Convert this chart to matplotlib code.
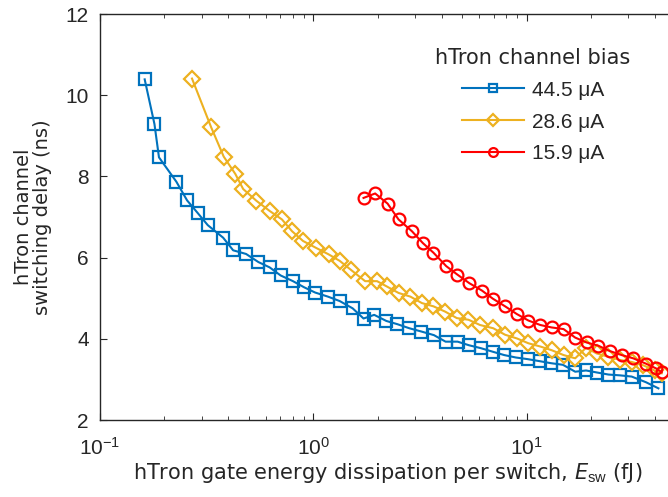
import matplotlib
matplotlib.use('Agg')
import matplotlib.pyplot as plt
import numpy as np

# data
labels = ['44.5 μA', '28.6 μA', '15.9 μA']

e_445 = [0.162, 0.180, 0.189, 0.228, 0.256, 0.288, 0.320, 0.378, 0.421, 0.484,
         0.553, 0.624, 0.703, 0.803, 0.905, 1.02, 1.17, 1.33, 1.53, 1.72,
         1.93, 2.20, 2.48, 2.82, 3.21, 3.68, 4.17, 4.75, 5.38, 6.10,
         6.96, 7.85, 8.90, 10.1, 11.5, 13.0, 14.8, 16.9, 19.0, 21.4,
         24.2, 27.4, 31.1, 36.3, 41.5]
t_445 = [10.39, 9.29, 8.47, 7.87, 7.41, 7.09, 6.80, 6.49, 6.18, 6.09,
         5.89, 5.76, 5.56, 5.42, 5.27, 5.14, 5.04, 4.93, 4.75, 4.50,
         4.59, 4.44, 4.36, 4.26, 4.18, 4.09, 3.93, 3.93, 3.84, 3.77,
         3.68, 3.60, 3.54, 3.50, 3.45, 3.40, 3.36, 3.19, 3.22, 3.17,
         3.12, 3.10, 3.07, 2.93, 2.78]

e_286 = [0.270, 0.332, 0.380, 0.431, 0.469, 0.541, 0.624, 0.713, 0.795, 0.895,
         1.03, 1.18, 1.33, 1.50, 1.75, 1.99, 2.21, 2.51, 2.85, 3.23,
         3.66, 4.15, 4.71, 5.34, 6.05, 6.98, 7.93, 9.0, 10.2, 11.6,
         13.1, 14.9, 16.9, 19.0, 21.3, 24.1, 27.4, 31.1, 35.2, 39.8, 43.0]
t_286 = [10.41, 9.21, 8.49, 8.06, 7.69, 7.40, 7.15, 6.94, 6.65, 6.41,
         6.24, 6.08, 5.92, 5.70, 5.42, 5.42, 5.29, 5.13, 5.04, 4.88,
         4.80, 4.67, 4.51, 4.47, 4.34, 4.26, 4.10, 4.01, 3.89, 3.81,
         3.72, 3.60, 3.52, 3.78, 3.64, 3.56, 3.48, 3.43, 3.35, 3.22, 3.15]

e_159 = [1.72, 1.95, 2.23, 2.51, 2.90, 3.26, 3.66, 4.20, 4.74, 5.39,
         6.17, 6.94, 7.93, 9.0, 10.2, 11.6, 13.1, 14.9, 16.9, 19.1,
         21.7, 24.5, 27.9, 31.6, 36.2, 40.5, 43.0]
t_159 = [7.47, 7.58, 7.33, 6.94, 6.65, 6.36, 6.12, 5.79, 5.58, 5.37,
         5.19, 4.99, 4.80, 4.61, 4.45, 4.34, 4.28, 4.24, 4.03, 3.91,
         3.83, 3.70, 3.60, 3.52, 3.39, 3.27, 3.18]

plt.rcParams['mathtext.fontset'] = 'custom'
plt.rcParams['mathtext.rm'] = 'Liberation Sans'
plt.rcParams['mathtext.it'] = 'DejaVu Sans:italic'
plt.rcParams['mathtext.sf'] = 'Liberation Sans'

dark = '#262626'
fig = plt.figure(figsize=(6.68, 4.97), dpi=100)
# axes run past the right edge, as in the cropped reference
ax = fig.add_axes([0.1497, 0.1549, 0.8618, 0.8169])

ax.plot(e_445, t_445, '-s', color='#0072BD', lw=1.5, ms=8, mew=1.6,
        mfc='none', label=labels[0])
ax.plot(e_286, t_286, '-D', color='#EDB120', lw=1.5, ms=8, mew=1.6,
        mfc='none', label=labels[1])
ax.plot(e_159, t_159, '-o', color='#FF0000', lw=1.5, ms=8.5, mew=1.6,
        mfc='none', label=labels[2])

ax.set_xscale('log')
ax.set_xlim(0.1, 50)
ax.set_ylim(2, 12)
ax.set_yticks([2, 4, 6, 8, 10, 12])

for s in ax.spines.values():
    s.set_color(dark)
    s.set_linewidth(1.0)
ax.tick_params(which='both', direction='in', top=True, right=True,
               colors=dark, labelcolor=dark)
ax.tick_params(which='major', length=5, labelsize=15, pad=8)
ax.tick_params(axis='x', which='major', pad=12)
ax.tick_params(which='minor', length=3)
for t in ax.get_xticklabels() + ax.get_yticklabels():
    t.set_fontfamily('Liberation Sans')

ax.set_xlabel('hTron gate energy dissipation per switch, $E_{\\rm sw}$ (fJ)',
              fontsize=15, family='DejaVu Sans', color=dark, labelpad=2)
ax.set_ylabel('hTron channel\nswitching delay (ns)', fontsize=14,
              family='DejaVu Sans', color=dark, linespacing=1.0, labelpad=10)

leg = ax.legend(loc='upper center', bbox_to_anchor=(533 / 668, 0.925),
                bbox_transform=fig.transFigure, frameon=False,
                prop={'family': 'Liberation Sans', 'size': 15},
                handlelength=3.0, handletextpad=0.35, labelspacing=0.62,
                borderpad=0, markerscale=0.75,
                title='hTron channel bias')
leg.get_title().set_fontfamily('DejaVu Sans')
leg.get_title().set_fontsize(15)
leg.get_title().set_color(dark)
for t in leg.get_texts():
    t.set_color(dark)

fig.savefig('out.png', dpi=100)
